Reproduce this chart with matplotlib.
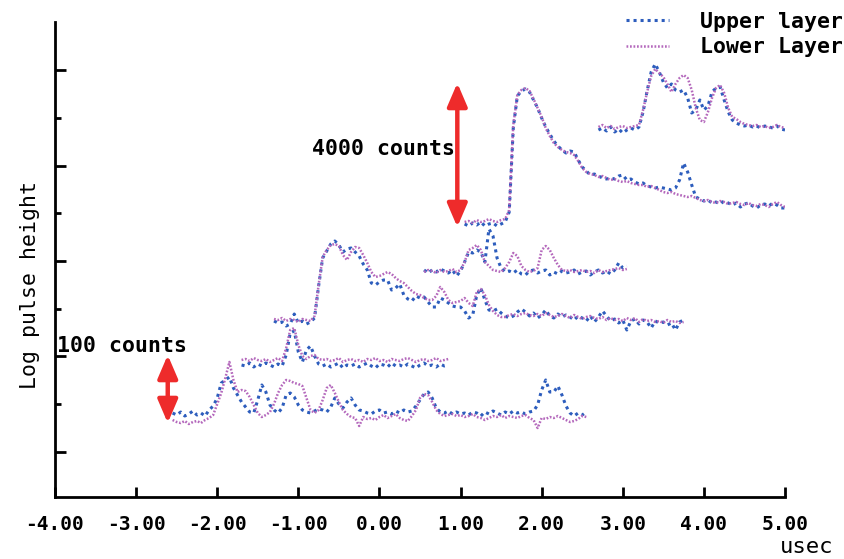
import numpy as np
import matplotlib.pyplot as plt
from matplotlib.ticker import FormatStrFormatter

plt.rcParams['font.family'] = ['DejaVu Sans Mono', 'DejaVu Sans']
plt.rcParams['font.weight'] = 'bold'
plt.rcParams['axes.unicode_minus'] = False

# sampling step of the traces (usec) and start time of each trace
dt = 0.05
starts = [-2.55, -1.70, -1.30, 0.55, 1.05, 2.70]

# log pulse height (arbitrary units, axis spans 0..475)
upper_1 = [84, 82, 85, 81, 83, 86, 82, 84, 81, 87,
           91, 99, 114, 117, 120, 109, 102, 95, 90, 85,
           84, 97, 112, 105, 92, 87, 84, 89, 102, 104,
           100, 92, 87, 85, 84, 86, 88, 87, 85, 90,
           99, 93, 89, 95, 99, 92, 87, 86, 84, 83,
           86, 87, 84, 85, 83, 86, 84, 87, 85, 86,
           91, 97, 103, 105, 99, 89, 85, 84, 86, 83,
           85, 83, 84, 82, 85, 84, 81, 85, 83, 86,
           84, 82, 85, 83, 86, 84, 85, 83, 85, 86,
           92, 107, 117, 105, 105, 111, 102, 91, 84, 81,
           84, 82, 85]
lower_1 = [77, 75, 74, 76, 73, 75, 76, 74, 77, 79,
           82, 93, 104, 119, 135, 117, 105, 107, 106, 100,
           92, 84, 80, 82, 85, 93, 104, 112, 117, 116,
           114, 113, 111, 99, 87, 84, 87, 97, 109, 112,
           104, 95, 87, 83, 80, 79, 71, 80, 78, 79,
           77, 80, 82, 79, 81, 83, 79, 77, 76, 81,
           87, 99, 103, 102, 95, 87, 83, 81, 82, 83,
           81, 82, 80, 81, 83, 80, 79, 77, 79, 81,
           80, 82, 79, 81, 80, 79, 81, 82, 79, 77,
           69, 79, 78, 80, 79, 81, 79, 77, 75, 76,
           78, 81, 80]

upper_2 = [132, 131, 134, 130, 133, 131, 134, 132, 130, 133,
           131, 142, 164, 166, 145, 135, 147, 151, 141, 133,
           131, 133, 130, 132, 134, 129, 132, 131, 133, 130,
           132, 134, 131, 129, 133, 132, 130, 134, 131, 132,
           130, 133, 131, 129, 132, 134, 131, 132, 130, 133,
           131, 132]
lower_2 = [137, 138, 136, 139, 137, 136, 138, 135, 137, 139,
           136, 149, 167, 169, 152, 141, 138, 141, 142, 138,
           137, 138, 136, 137, 139, 135, 137, 138, 136, 137,
           135, 138, 137, 139, 136, 137, 135, 138, 137, 136,
           138, 139, 137, 135, 137, 138, 136, 137, 139, 136,
           137, 138]

upper_3 = [176, 174, 175, 171, 173, 183, 174, 176, 173, 175,
           179, 211, 239, 246, 253, 256, 252, 245, 248, 249,
           245, 241, 233, 227, 214, 212, 215, 217, 217, 207,
           209, 213, 202, 198, 196, 201, 199, 200, 195, 190,
           190, 199, 197, 194, 191, 190, 190, 186, 179, 182,
           202, 209, 197, 187, 186, 188, 184, 181, 179, 181,
           185, 188, 185, 181, 184, 179, 182, 187, 181, 179,
           183, 180, 182, 180, 177, 181, 179, 176, 181, 175,
           180, 186, 181, 176, 178, 174, 177, 167, 176, 178,
           173, 177, 175, 169, 176, 174, 175, 172, 174, 167,
           175, 177]
lower_3 = [178, 177, 179, 176, 178, 177, 175, 178, 177, 176,
           181, 212, 240, 247, 252, 253, 251, 242, 237, 245,
           250, 249, 242, 234, 225, 220, 221, 223, 225, 223,
           219, 216, 214, 210, 206, 203, 202, 199, 197, 197,
           201, 210, 205, 197, 194, 195, 196, 199, 194, 191,
           205, 208, 202, 192, 186, 182, 180, 180, 182, 183,
           181, 183, 184, 182, 181, 183, 181, 184, 182, 180,
           181, 183, 181, 179, 182, 180, 178, 180, 181, 179,
           178, 180, 177, 179, 177, 178, 176, 179, 177, 179,
           175, 178, 176, 177, 175, 176, 174, 177, 175, 176,
           174, 175]

upper_4 = [227, 224, 227, 225, 228, 226, 224, 227, 221, 226,
           235, 245, 244, 247, 245, 235, 268, 261, 239, 229,
           225, 226, 224, 227, 223, 222, 226, 227, 224, 226,
           227, 222, 225, 223, 226, 224, 225, 227, 223, 225,
           226, 222, 225, 227, 224, 226, 223, 227, 234, 229,
           231]
lower_4 = [225, 227, 226, 224, 227, 225, 226, 228, 225, 227,
           235, 247, 249, 252, 247, 235, 231, 227, 226, 225,
           229, 235, 244, 241, 231, 227, 225, 226, 229, 247,
           251, 247, 239, 232, 227, 226, 227, 225, 226, 227,
           225, 226, 224, 227, 225, 226, 227, 228, 229, 227,
           228]

upper_5 = [273, 271, 274, 272, 275, 271, 273, 274, 271, 273,
           275, 285, 369, 401, 406, 408, 405, 397, 389, 379,
           370, 363, 356, 351, 347, 344, 346, 345, 337, 330,
           326, 322, 323, 321, 319, 318, 319, 318, 321, 322,
           317, 318, 315, 313, 314, 311, 310, 309, 310, 309,
           308, 307, 309, 317, 334, 325, 312, 300, 298, 296,
           297, 294, 295, 293, 296, 294, 292, 294, 290, 293,
           294, 291, 289, 292, 293, 291, 294, 292, 289, 289]
lower_5 = [275, 276, 274, 277, 275, 276, 278, 276, 275, 277,
           278, 287, 372, 402, 407, 409, 406, 398, 389, 380,
           369, 361, 354, 350, 347, 345, 344, 342, 336, 329,
           325, 323, 322, 320, 321, 319, 317, 318, 316, 315,
           316, 314, 313, 312, 312, 310, 311, 309, 307, 305,
           304, 305, 303, 302, 301, 300, 301, 299, 297, 296,
           297, 295, 294, 296, 295, 293, 294, 295, 293, 292,
           294, 292, 291, 293, 292, 290, 293, 295, 292, 290]

upper_6 = [367, 369, 366, 370, 365, 368, 364, 367, 369, 367,
           370, 385, 406, 425, 433, 425, 415, 409, 413, 407,
           405, 407, 399, 384, 387, 397, 387, 391, 405, 409,
           410, 397, 385, 377, 374, 372, 371, 372, 370, 371,
           369, 371, 370, 369, 371, 368, 367]
lower_6 = [370, 372, 369, 371, 368, 370, 371, 369, 370, 371,
           372, 387, 405, 421, 428, 424, 420, 413, 405, 413,
           419, 422, 419, 407, 389, 377, 375, 385, 399, 409,
           412, 404, 389, 380, 378, 375, 373, 372, 371, 372,
           370, 371, 369, 370, 372, 370, 369]

upper = [upper_1, upper_2, upper_3, upper_4, upper_5, upper_6]
lower = [lower_1, lower_2, lower_3, lower_4, lower_5, lower_6]

# scale bars: (x, bottom, top)
bar_100 = (-2.61, 74, 142)
bar_4000 = (0.96, 270, 414)

blue = '#2D5DBD'
purple = '#B468BC'
red = '#EE2B2B'

fig = plt.figure(figsize=(8.44, 5.59), dpi=100)
ax = fig.add_axes([55 / 844, 62 / 559, 730 / 844, 475 / 559])

for i, (t0, u, l) in enumerate(zip(starts, upper, lower)):
    t = t0 + dt * np.arange(len(u))
    ax.plot(t, u, color=blue, lw=2.2, ls=(0, (1, 1.3)),
            label='Upper layer' if i == 0 else None)
    ax.plot(t, l, color=purple, lw=1.8, ls=(0, (0.7, 0.7)),
            label='Lower Layer' if i == 0 else None)

for x, y0, y1 in [bar_100, bar_4000]:
    ax.annotate('', xy=(x, y1), xytext=(x, y0),
                arrowprops=dict(arrowstyle='<|-|>,head_length=0.7,head_width=0.3',
                                color=red, lw=3.2, shrinkA=0, shrinkB=0,
                                mutation_scale=20))

ax.text(-3.975, 151, '100 counts', ha='left', va='center', fontsize=15.5)
ax.text(0.93, 348, '4000 counts', ha='right', va='center', fontsize=15.5)

ax.set_xlim(-4, 5)
ax.set_ylim(0, 475)
for s in ['top', 'right']:
    ax.spines[s].set_visible(False)
for s in ['left', 'bottom']:
    ax.spines[s].set_linewidth(2)

ax.set_xticks(np.arange(-4, 6))
ax.xaxis.set_major_formatter(FormatStrFormatter('%.2f'))
ax.tick_params(axis='x', direction='in', length=7, width=2, pad=13, labelsize=14)
ax.set_yticks([45, 141, 236, 331, 427])
ax.set_yticks([93, 188, 284, 379], minor=True)
ax.tick_params(axis='y', which='major', direction='in', length=8, width=2, labelleft=False)
ax.tick_params(axis='y', which='minor', direction='in', length=4, width=2)

ax.set_ylabel('Log pulse height', fontsize=15.5)
ax.yaxis.set_label_coords(-0.02, 0.446)
ax.set_xlabel('usec', fontsize=16)
ax.xaxis.set_label_coords(1.029, -0.084)

ax.legend(loc='upper right', bbox_to_anchor=(843 / 844, 1 - 12 / 559), bbox_transform=fig.transFigure,
          frameon=False, fontsize=15.5, handlelength=2.0, handletextpad=1.45,
          labelspacing=0.25, borderaxespad=0, borderpad=0)

fig.savefig('out.png', dpi=100)
